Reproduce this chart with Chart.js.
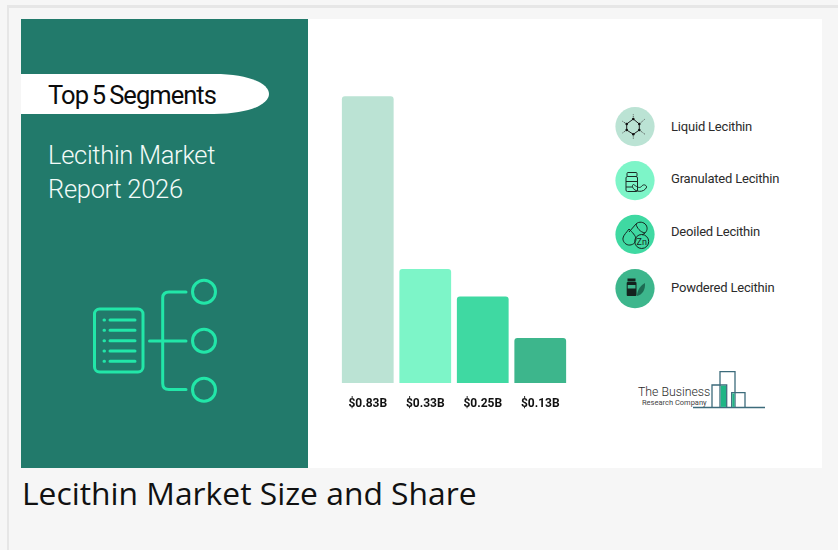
<!DOCTYPE html>
<html>
<head>
<meta charset="utf-8">
<title>Lecithin Market Size and Share</title>
<script src="https://cdn.jsdelivr.net/npm/chart.js@4"></script>
<style>
html, body { margin: 0; padding: 0; }
body { width: 838px; height: 550px; background: #f6f6f6; position: relative; overflow: hidden; font-family: Roboto, sans-serif; }
.abs { position: absolute; white-space: nowrap; }
#frameTop { left: 7px; top: 5px; width: 831px; height: 3px; background: #e6e6e6; }
#frameLeft { left: 7px; top: 5px; width: 2px; height: 545px; background: #e6e6e6; }
#panel { left: 21px; top: 19px; width: 801px; height: 449px; background: #fff; }
#greenSide { left: 21px; top: 19px; width: 287px; height: 449px; background: #227a6b; }
#art { left: 0; top: 0; }
#pillText { left: 48px; top: 80px; font-size: 25.5px; line-height: 30px; letter-spacing: -0.95px; word-spacing: -1.5px; color: #0c0c0c; }
#subTitle { left: 48px; top: 138px; font-size: 25.5px; line-height: 34px; font-weight: 300; letter-spacing: -0.3px; color: #f2fbf8; }
#caption { left: 22px; top: 471px; font-family: "Open Sans", sans-serif; font-size: 31.8px; line-height: 44px; color: #111; }
.legendText { left: 671px; font-size: 13px; line-height: 16px; color: #2b2b2b; letter-spacing: -0.2px; }
#logoBig { left: 638px; top: 387px; font-size: 12.3px; line-height: 11px; color: #2a2a2a; font-weight: 300; }
#logoSmall { left: 642px; top: 400px; font-size: 7.5px; line-height: 6px; color: #444; }
#barBox { left: 339.2px; top: 72px; width: 230px; height: 345px; }
</style>
</head>
<body>
<div class="abs" id="frameTop"></div>
<div class="abs" id="frameLeft"></div>
<div class="abs" id="panel"></div>
<div class="abs" id="greenSide"></div>

<svg class="abs" id="art" width="838" height="550" viewBox="0 0 838 550">
  <path d="M21 74 H214 C250 74 269 84 269 94 C269 104 250 114 214 114 H21 Z" fill="#fff"/>

  <!-- icono do documento -->
  <g fill="none" stroke="#22e6a8" stroke-width="3" stroke-linecap="round">
    <rect x="94.5" y="309" width="48.5" height="63" rx="5"/>
    <path d="M110 320H135M110 330.3H135M110 340.7H135M110 351H135M110 361.3H135"/>
    <path d="M104 320h.5M104 330.3h.5M104 340.7h.5M104 351h.5M104 361.3h.5"/>
    <path d="M149.5 341H186M186 292H169Q162.7 292 162.7 298V383.5Q162.7 389.5 169 389.5H186"/>
    <circle cx="204" cy="291.7" r="11.5"/>
    <circle cx="204" cy="340.7" r="11.5"/>
    <circle cx="204" cy="389.7" r="11.5"/>
  </g>

  <!-- circulos da legenda -->
  <circle cx="635" cy="126.6" r="19.6" fill="#bbe3d4"/>
  <circle cx="635" cy="180.6" r="19.6" fill="#7df5c8"/>
  <circle cx="635" cy="234.4" r="19.6" fill="#3fd9a2"/>
  <circle cx="635" cy="288.6" r="19.6" fill="#3db68c"/>

  <!-- molecula -->
  <path d="M626.7 124L633.3 119L639.3 124V130L633.3 134.3L626.7 130Z" fill="none" stroke="#222" stroke-width="1"/>
  <path d="M633.3 119V114.3M639.3 124L645 119M639.3 130L645 134.3M633.3 134.3V139M626.7 124L622 121M626.7 130L622 133.3" fill="none" stroke="#444" stroke-width="0.8" stroke-dasharray="1.2 0.8"/>
  <g fill="#111">
    <circle cx="626.7" cy="124" r="1.3"/><circle cx="633.3" cy="119" r="1.3"/><circle cx="639.3" cy="124" r="1.3"/>
    <circle cx="639.3" cy="130" r="1.3"/><circle cx="633.3" cy="134.3" r="1.3"/><circle cx="626.7" cy="130" r="1.3"/>
  </g>

  <!-- pote e castanha -->
  <g fill="none" stroke="#1c2b26" stroke-width="1">
    <rect x="627" y="172.5" width="10" height="4" rx="1"/>
    <rect x="626" y="176.5" width="11.5" height="15" rx="1.5"/>
    <path d="M626 181.5H637.5M626 187H632"/>
    <path d="M632.5 187C634 192 644 193.5 646.7 187C646 184.5 643 184 641.5 186.5C639 189 636 186 633.5 184.5C632.5 184.5 632.3 186 632.5 187Z"/>
  </g>

  <!-- capsulas e zinco -->
  <g fill="none" stroke="#16241f" stroke-width="1">
    <path d="M629 232L636 224C639 221 644 222 646 225C648 228 647 231 645 233L642 235"/>
    <path d="M636 224C637 228 640 232 645 233"/>
    <path d="M629 229C632 232 636 236 636 239C636 243 632 245.5 628.5 245C625 244.5 622.5 241 623 238C623.5 235 627 232 629 229Z"/>
    <circle cx="641.7" cy="241.5" r="7"/>
  </g>
  <text x="641.7" y="244.8" text-anchor="middle" font-family="Roboto" font-size="9" fill="#16241f">Zn</text>

  <!-- pote e folha -->
  <rect x="627.5" y="278.5" width="8" height="3" fill="#14221e"/>
  <rect x="626.7" y="282" width="9.8" height="14" rx="1" fill="#14221e"/>
  <rect x="627.7" y="285" width="7.8" height="3.5" fill="#3db68c"/>
  <path d="M637 296C637 290 641 285 645 283C645.5 289 643 294.5 637 296Z" fill="#1d6b52"/>

  <!-- logo -->
  <path d="M693 407.5H745V392.7H731.7V407.5M712 407.5V385H726.7V407.5M720 407.5V371.7H735V407.5M745 407.5H765" fill="none" stroke="#3c6b7b" stroke-width="1.3"/>
  <rect x="720.7" y="385.7" width="5.3" height="21.2" fill="#1fb585"/>
  <rect x="732.3" y="393.4" width="2.2" height="13.5" fill="#1fb585"/>
</svg>

<div class="abs" id="pillText">Top 5 Segments</div>
<div class="abs" id="subTitle">Lecithin Market<br>Report 2026</div>
<div class="abs legendText" style="top:118.5px">Liquid Lecithin</div>
<div class="abs legendText" style="top:171px">Granulated Lecithin</div>
<div class="abs legendText" style="top:224px">Deoiled Lecithin</div>
<div class="abs legendText" style="top:279.5px">Powdered Lecithin</div>
<div class="abs" id="logoBig">The Business</div>
<div class="abs" id="logoSmall">Research Company</div>
<div class="abs" id="caption">Lecithin Market Size and Share</div>

<div class="abs" id="barBox"><canvas id="grafico"></canvas></div>

<script>
const categorias = ['Liquid Lecithin', 'Granulated Lecithin', 'Deoiled Lecithin', 'Powdered Lecithin'];
const valores = [0.83, 0.33, 0.25, 0.13];
const rotulos = ['$0.83B', '$0.33B', '$0.25B', '$0.13B'];
const cores = ['#bbe3d4', '#7df5c8', '#3fd9a2', '#3db68c'];

const ctx = document.getElementById('grafico').getContext('2d');
new Chart(ctx, {
    type: 'bar',
    data: {
        labels: categorias,
        datasets: [{
            data: valores,
            backgroundColor: cores,
            borderRadius: { topLeft: 3, topRight: 3, bottomLeft: 0, bottomRight: 0 },
            borderSkipped: false,
            barPercentage: 0.9,
            categoryPercentage: 1,
        }]
    },
    options: {
        responsive: true,
        maintainAspectRatio: false,
        animation: false,
        layout: { padding: 0 },
        plugins: { legend: { display: false }, tooltip: { enabled: false } },
        scales: {
            x: {
                grid: { display: false },
                border: { display: false },
                ticks: {
                    padding: 6,
                    maxRotation: 0,
                    autoSkip: false,
                    color: '#111',
                    font: { family: 'Roboto', size: 12, weight: '700' },
                    callback: (v, i) => rotulos[i], //mostra o valor no lugar do nome
                },
                afterFit: (escala) => { escala.height = 34; },
            },
            y: { display: false, min: 0, max: 0.9 },
        },
    },
});
</script>
</body>
</html>
